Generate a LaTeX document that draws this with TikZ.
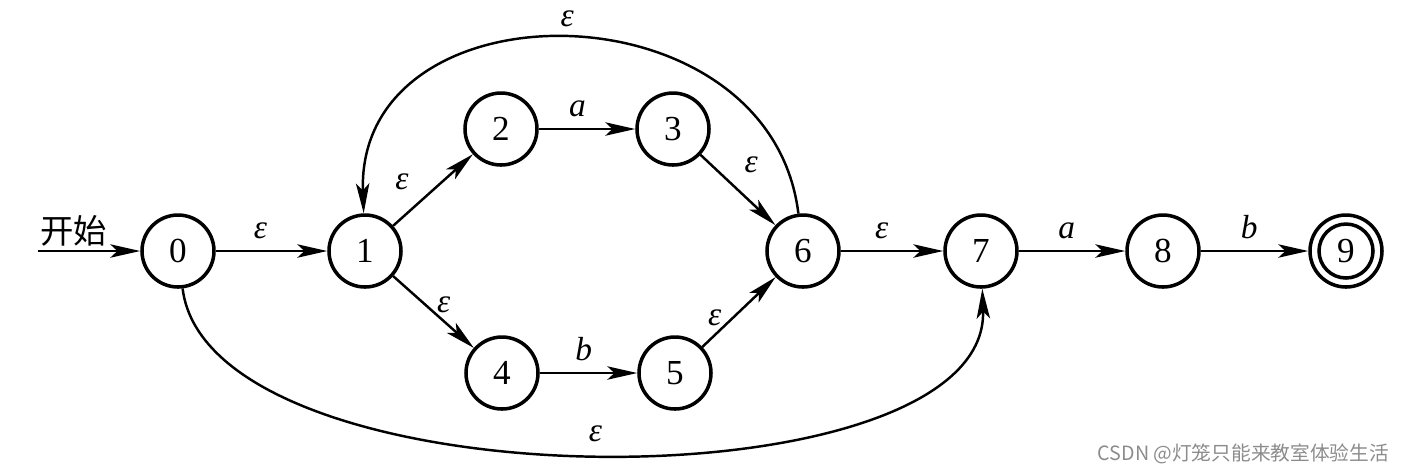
\documentclass[tikz,border=0pt]{standalone}
\usepackage{fontspec}
\setmainfont{Liberation Serif}
\newfontfamily\cjk{Noto Sans CJK SC}
\usetikzlibrary{arrows.meta}

\begin{document}
\begin{tikzpicture}[line width=0.7pt,
      main/.style = {draw, circle, line width=1pt, minimum size=7.2mm, inner sep=0pt, font=\fontsize{10}{12}\selectfont},
      accept/.style = {main, path picture={\draw[line width=1pt] (path picture bounding box.center) circle (2.7mm);}},
      edge/.style = {-{Stealth[length=8.5pt, width=3.8pt, inset=2pt]}},
      lbl/.style = {font=\fontsize{9.5}{11}\selectfont\itshape, inner sep=3pt}]
    \useasboundingbox (0,0) rectangle (14.08,-4.72);

    % nodes
    \node[main] (0) at (1.78,-2.51) {0};
    \node[main] (1) at (3.65,-2.51) {1};
    \node[main] (2) at (5.01,-1.29) {2};
    \node[main] (3) at (6.73,-1.29) {3};
    \node[main] (4) at (5.02,-3.73) {4};
    \node[main] (5) at (6.75,-3.73) {5};
    \node[main] (6) at (8.03,-2.51) {6};
    \node[main] (7) at (9.81,-2.51) {7};
    \node[main] (8) at (11.63,-2.51) {8};
    \node[accept] (9) at (13.46,-2.51) {9};
    \coordinate (start) at (0.38,-2.51);

    % edges
    \draw[edge] (start) -- node[above, pos=.35, inner sep=1pt, font=\cjk\fontsize{9.5}{11}\selectfont] {开始} (0);
    \draw[edge] (0) to node[lbl, above, pos=.4] {ε} (1);
    \draw[edge] (1) to node[lbl, above left, pos=.34] {ε} (2);
    \draw[edge] (1) to node[lbl, right, pos=.4] {ε} (4);
    \draw[edge] (2) to node[lbl, above, pos=.4] {a} (3);
    \draw[edge] (4) to node[lbl, above, pos=.45] {b} (5);
    \draw[edge] (3) to node[lbl, above right, pos=.43] {ε} (6);
    \draw[edge] (5) to node[lbl, left, pos=.42] {ε} (6);
    \draw[edge] (6) to node[lbl, above, pos=.4] {ε} (7);
    \draw[edge] (7) to node[lbl, above, pos=.45] {a} (8);
    \draw[edge] (8) to node[lbl, above, pos=.45] {b} (9);
    \draw[edge] (6) to[out=97, in=92, looseness=1.38] node[lbl, above] {ε} (1);
    \draw[edge] (0) to[out=-83, in=-88, looseness=0.71] node[lbl, above] {ε} (7);

    % watermark
    \node[anchor=east, text=black!45, font=\cjk\fontsize{5.6}{7}\selectfont, inner sep=0pt] (wm) at (13.9,-4.54) {CSDN @灯笼只能来教室体验生活};
\end{tikzpicture}
\end{document}
